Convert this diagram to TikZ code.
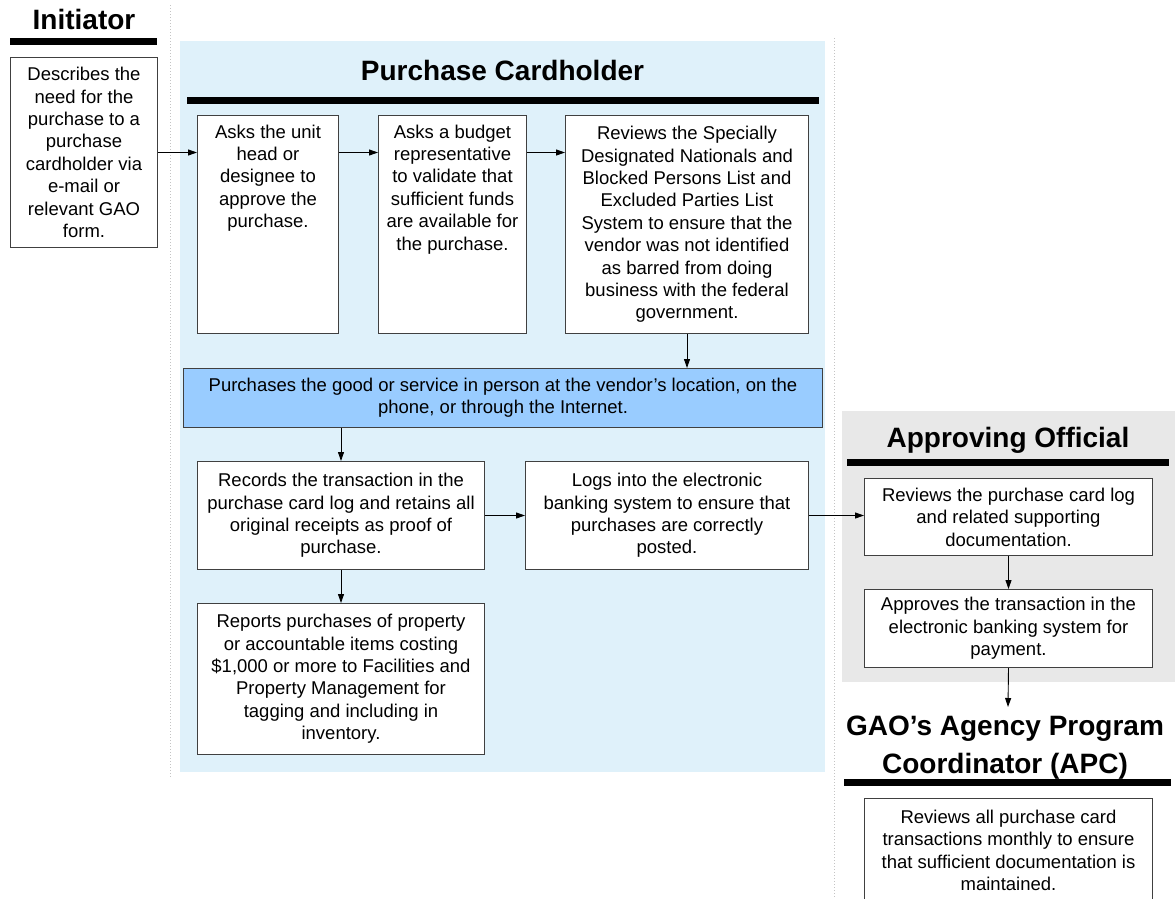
\documentclass[tikz,border=0pt]{standalone}
\usepackage{fontspec}
\setmainfont{Liberation Sans}
\usetikzlibrary{arrows.meta}
\definecolor{lblue}{HTML}{DFF1FA}
\definecolor{mblue}{HTML}{99CCFF}
\definecolor{lgrey}{HTML}{E8E8E8}
\definecolor{dotgrey}{HTML}{C4C4C4}
\definecolor{edge}{HTML}{404040}
\newcommand\myBody{\fontsize{18.5}{22.4}\selectfont}
\newcommand\myTitle{\fontsize{28}{36}\selectfont\bfseries}
\begin{document}
\begin{tikzpicture}[x=1pt,y=-1pt,
  box/.style={draw=edge, line width=1pt, fill=white, align=center, font=\myBody,
              inner sep=2pt, anchor=north west},
  txt/.style={align=center, font=\myBody, inner sep=0pt},
  ttl/.style={font=\myTitle, inner sep=0pt, anchor=base},
  bar/.style={line width=6.5pt},
  arr/.style={-{Triangle[length=9pt,width=6pt]}, line width=0.9pt, draw=black},
  sep/.style={draw=dotgrey, dotted, line width=1pt}]
\useasboundingbox (0,0) rectangle (1175,898);
\clip (0,0) rectangle (1175,898);

% regions
\fill[lblue] (180,41) rectangle (825,772);
\fill[lgrey] (842,411) rectangle (1175,682);
\draw[sep] (170,5) -- (170,778);
\draw[sep] (834,38) -- (834,898);

% titles and bars
\node[ttl] (tinit) at (84,29) {Initiator};
\draw[bar] (10,41.5) -- (157,41.5);
\node[ttl] (tpc) at (502.5,80) {Purchase Cardholder};
\draw[bar] (187,100.5) -- (819,100.5);
\node[ttl] (tao) at (1008,447) {Approving Official};
\draw[bar] (847,462.5) -- (1169,462.5);
\node[ttl] (tgao1) at (1005,735) {GAO’s Agency Program};
\node[ttl] (tgao2) at (1005,773) {Coordinator (APC)};
\draw[bar] (844,782.5) -- (1171,782.5);

% boxes
\node[box, minimum width=147, minimum height=190] (init) at (10,57)
  {Describes the\\need for the\\purchase to a\\purchase\\cardholder via\\e-mail or\\relevant GAO\\form.};
\node[box, minimum width=141, minimum height=218] (b1) at (197,115) {};
\node[txt, anchor=north] (b1t) at ([yshift=-9.5pt]b1.north)
  {Asks the unit\\head or\\designee to\\approve the\\purchase.};
\node[box, minimum width=148, minimum height=218] (b2) at (378,115) {};
\node[txt, anchor=north] (b2t) at ([yshift=-9.5pt]b2.north)
  {Asks a budget\\representative\\to validate that\\sufficient funds\\are available for\\the purchase.};
\node[box, minimum width=243, minimum height=218] (b3) at (565,115)
  {Reviews the Specially\\Designated Nationals and\\Blocked Persons List and\\Excluded Parties List\\System to ensure that the\\vendor was not identified\\as barred from doing\\business with the federal\\government.};
\node[box, fill=mblue, minimum width=639, minimum height=59] (wide) at (183,368)
  {Purchases the good or service in person at the vendor’s location, on the\\phone, or through the Internet.};
\node[box, minimum width=287, minimum height=108] (rec) at (197,461)
  {Records the transaction in the\\purchase card log and retains all\\original receipts as proof of\\purchase.};
\node[box, minimum width=283, minimum height=108] (logs) at (525,461)
  {Logs into the electronic\\banking system to ensure that\\purchases are correctly\\posted.};
\node[box, minimum width=287, minimum height=151] (rep) at (197,603)
  {Reports purchases of property\\or accountable items costing\\\$1,000 or more to Facilities and\\Property Management for\\tagging and including in\\inventory.};
\node[box, minimum width=288, minimum height=77] (rev) at (864,478)
  {Reviews the purchase card log\\and related supporting\\documentation.};
\node[box, minimum width=288, minimum height=78] (appr) at (864,589)
  {Approves the transaction in the\\electronic banking system for\\payment.};
\node[box, minimum width=288, minimum height=104] (apc) at (864,798)
  {Reviews all purchase card\\transactions monthly to ensure\\that sufficient documentation is\\maintained.};

% connectors
\coordinate (gaoin) at (1008,707);
\draw[arr] (init.east) -- (init.east -| b1.west);
\draw[arr] (b1.east |- init.east) -- (b2.west |- init.east);
\draw[arr] (b2.east |- init.east) -- (b3.west |- init.east);
\draw[arr] (b3.south) -- (b3.south |- wide.north);
\draw[arr] (rec.north |- wide.south) -- (rec.north);
\draw[arr] (rec.east) -- (logs.west);
\draw[arr] (rec.south) -- (rep.north);
\draw[arr] (logs.east) -- (logs.east -| rev.west);
\draw[arr] (rev.south) -- (appr.north);
\draw[arr] (appr.south) -- (gaoin);
\end{tikzpicture}
\end{document}
